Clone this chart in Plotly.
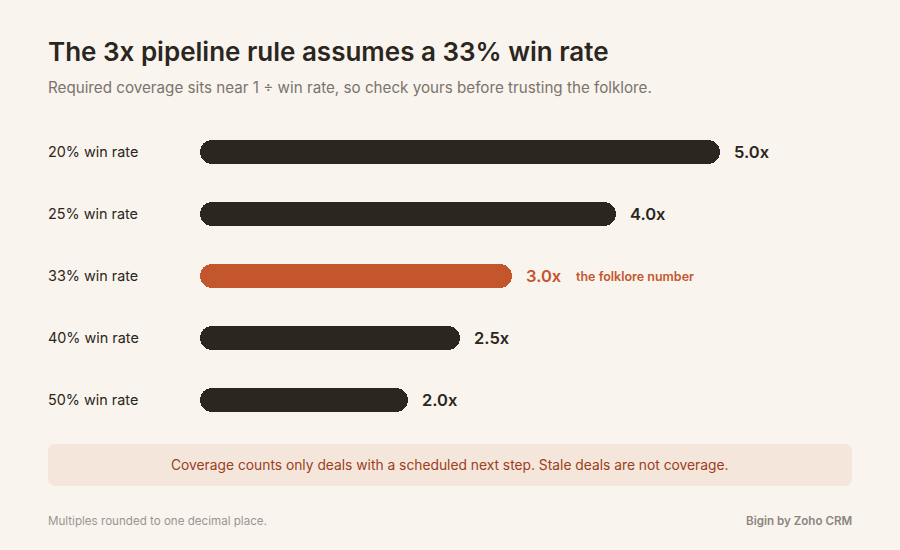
import plotly.graph_objects as go

categories = ["20% win rate", "25% win rate", "33% win rate", "40% win rate", "50% win rate"]
multiples = [5.0, 4.0, 3.0, 2.5, 2.0]
value_labels = ["5.0x", "4.0x", "3.0x", "2.5x", "2.0x"]
highlight_index = 2
highlight_note = "the folklore number"

title = "The 3x pipeline rule assumes a 33% win rate"
subtitle = "Required coverage sits near 1 \u00f7 win rate, so check yours before trusting the folklore."
callout = "Coverage counts only deals with a scheduled next step. Stale deals are not coverage."
footnote = "Multiples rounded to one decimal place."
brand = "Bigin by Zoho CRM"

BG = "#f9f4ee"
DARK = "#2b2620"
ORANGE = "#c4562d"
FONT = "Inter"

W, H = 900, 550
ML, MR, MT, MB = 200, 48, 121, 119
PW = W - ML - MR
PH = H - MT - MB
PX_PER_UNIT = 104
PAD = 2  # annotation inner padding compensation

colors = [ORANGE if i == highlight_index else DARK for i in range(len(categories))]

fig = go.Figure()
# right part (rounded right end)
fig.add_trace(go.Bar(
    y=categories, x=[v * 0.75 for v in multiples], base=[v * 0.25 for v in multiples],
    orientation="h", width=24 / 62, marker=dict(color=colors, cornerradius=12, line=dict(width=0)),
    hoverinfo="skip", showlegend=False))
# left part (rounded left end)
fig.add_trace(go.Bar(
    y=categories, x=[-v * 0.75 for v in multiples], base=[v * 0.75 for v in multiples],
    orientation="h", width=24 / 62, marker=dict(color=colors, cornerradius=12, line=dict(width=0)),
    hoverinfo="skip", showlegend=False))

def px_x(p):
    return (p - ML) / PW

def px_y(p):
    return (H - MB - p) / PH

annotations = []
for i, (c, v, lab) in enumerate(zip(categories, multiples, value_labels)):
    col = colors[i]
    annotations.append(dict(x=px_x(48), xref="paper", y=c, yref="y", text=c, showarrow=False,
                            xanchor="left", yanchor="middle", xshift=-PAD, yshift=1,
                            font=dict(family=FONT, size=14.4, color=DARK)))
    annotations.append(dict(x=v, xref="x", y=c, yref="y", text=lab, showarrow=False,
                            xanchor="left", yanchor="middle", xshift=14 - PAD,
                            font=dict(family=FONT, size=16.5, weight=600, color=col)))
    if i == highlight_index:
        annotations.append(dict(x=v, xref="x", y=c, yref="y", text=highlight_note,
                                showarrow=False, xanchor="left", yanchor="middle", xshift=64 - PAD,
                                font=dict(family=FONT, size=12.5, weight=600, color=ORANGE)))

annotations += [
    dict(x=px_x(48), xref="paper", y=px_y(87), yref="paper", text=subtitle, showarrow=False,
         xanchor="left", yanchor="middle", xshift=-PAD, font=dict(family=FONT, size=15.2, color="#7b736c")),
    dict(x=0.5 * (px_x(48) + 1), xref="paper", y=px_y(465), yref="paper", text=callout, showarrow=False,
         xanchor="center", yanchor="middle", font=dict(family=FONT, size=13.8, color="#9a4020")),
    dict(x=px_x(48), xref="paper", y=px_y(521), yref="paper", text=footnote, showarrow=False,
         xanchor="left", yanchor="middle", xshift=-PAD, font=dict(family=FONT, size=11.6, color="#9d958e")),
    dict(x=1, xref="paper", y=px_y(521), yref="paper", text=brand, showarrow=False,
         xanchor="right", yanchor="middle", xshift=PAD,
         font=dict(family=FONT, size=11.6, weight=600, color="#8d857e")),
]

# rounded callout box in paper coords
x0, x1 = px_x(48), 1.0
y0, y1 = px_y(486), px_y(444)
rx, ry = 8 / PW, 8 / PH
path = (f"M {x0+rx},{y1} L {x1-rx},{y1} Q {x1},{y1} {x1},{y1-ry} L {x1},{y0+ry} "
        f"Q {x1},{y0} {x1-rx},{y0} L {x0+rx},{y0} Q {x0},{y0} {x0},{y0+ry} "
        f"L {x0},{y1-ry} Q {x0},{y1} {x0+rx},{y1} Z")

fig.update_layout(
    width=W, height=H, paper_bgcolor=BG, plot_bgcolor=BG,
    margin=dict(l=ML, r=MR, t=MT, b=MB),
    barmode="overlay", bargap=0,
    title=dict(text=title, x=48 / W, xref="container", xanchor="left",
               y=1 - 52 / H, yref="container", yanchor="middle",
               font=dict(family=FONT, size=26, weight=600, color=DARK)),
    xaxis=dict(range=[0, PW / PX_PER_UNIT], visible=False, fixedrange=True),
    yaxis=dict(categoryorder="array", categoryarray=categories, autorange="reversed",
               range=[len(categories) - 0.5, -0.5], visible=False, fixedrange=True),
    annotations=annotations,
    shapes=[dict(type="path", path=path, xref="paper", yref="paper", fillcolor="#f5e6dc",
                 line=dict(width=0), layer="below")],
    hovermode=False,
)

fig.write_html("out.html", config={"displayModeBar": False},
               post_script="document.body.style.margin='0';document.body.style.overflow='hidden';document.body.style.background='" + BG + "';")
